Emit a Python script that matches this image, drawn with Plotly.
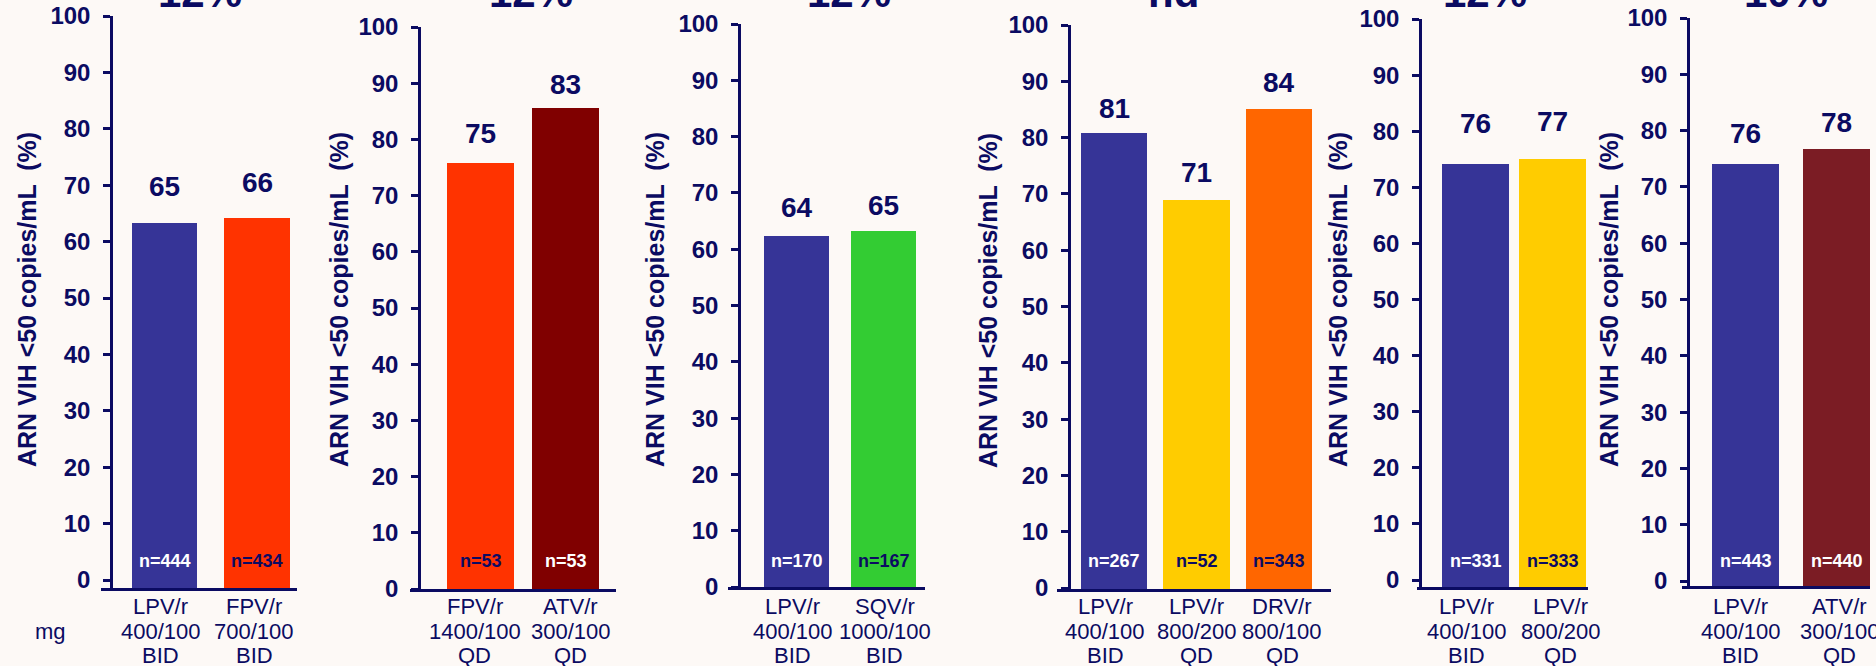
import plotly.graph_objects as go

# ---------------- data ----------------
titles = ["12%", "12%", "12%", "nd", "12%", "10%"]

cats_1 = ["LPV/r<br>400/100<br>BID", "FPV/r<br>700/100<br>BID"]
vals_1 = [63.3, 64.2]
labs_1 = ["65", "66"]
n_1 = ["n=444", "n=434"]

cats_2 = ["FPV/r<br>1400/100<br>QD", "ATV/r<br>300/100<br>QD"]
vals_2 = [75.8, 85.6]
labs_2 = ["75", "83"]
n_2 = ["n=53", "n=53"]

cats_3 = ["LPV/r<br>400/100<br>BID", "SQV/r<br>1000/100<br>BID"]
vals_3 = [62.3, 63.2]
labs_3 = ["64", "65"]
n_3 = ["n=170", "n=167"]

cats_4 = ["LPV/r<br>400/100<br>BID", "LPV/r<br>800/200<br>QD", "DRV/r<br>800/100<br>QD"]
vals_4 = [80.8, 68.9, 85.1]
labs_4 = ["81", "71", "84"]
n_4 = ["n=267", "n=52", "n=343"]

cats_5 = ["LPV/r<br>400/100<br>BID", "LPV/r<br>800/200<br>QD"]
vals_5 = [74.2, 75.0]
labs_5 = ["76", "77"]
n_5 = ["n=331", "n=333"]

cats_6 = ["LPV/r<br>400/100<br>BID", "ATV/r<br>300/100<br>QD"]
vals_6 = [74.1, 76.7]
labs_6 = ["76", "78"]
n_6 = ["n=443", "n=440"]

y_title = "ARN VIH <50 copies/mL  (%)"
unit_label = "mg"

# ---------------- styles ----------------
BLUE = "#363497"
RED = "#FF3300"
DKRED = "#800000"
GREEN = "#33CC33"
YELLOW = "#FFCC00"
ORANGE = "#FF6600"
MAROON = "#7B1C24"
NAVY = "#0b0b62"
WHITE = "#FFFFFF"

colors = [
    [BLUE, RED], [RED, DKRED], [BLUE, GREEN],
    [BLUE, YELLOW, ORANGE], [BLUE, YELLOW], [BLUE, MAROON],
]
ncolors = [
    [WHITE, NAVY], [NAVY, WHITE], [WHITE, NAVY],
    [WHITE, NAVY, NAVY], [WHITE, NAVY], [WHITE, WHITE],
]

# ---------------- geometry (pixels, layout only) ----------------
W, H = 1876, 666
FONT = "Liberation Sans, Arial, Helvetica, sans-serif"
CAT_LINES_Y = [606, 631, 655]
geom = [
    dict(y=(16, 580, 588), axis=111, dom=(101, 297), bars=[(132, 197), (224, 290)],
         yt=27, tt=200, lab_gap=[36, 35], cat_dx=[-4, -3]),
    dict(y=(27, 589, 589), axis=419, dom=(410, 616), bars=[(447, 514), (532, 599)],
         yt=339, tt=531, lab_gap=[30, 23], cat_dx=[-6, 5]),
    dict(y=(24, 587, 587), axis=739, dom=(728, 925), bars=[(764, 829), (851, 916)],
         yt=655, tt=849, lab_gap=[29, 26], cat_dx=[-4, 1]),
    dict(y=(25, 588, 589), axis=1069, dom=(1057, 1331), bars=[(1081, 1147), (1163, 1228), (1245, 1313)],
         yt=988, tt=1173, lab_gap=[25, 28, 26], cat_dx=[-9, 0, 3]),
    dict(y=(19, 580, 587), axis=1420, dom=(1417, 1588), bars=[(1442, 1509), (1519, 1586)],
         yt=1338, tt=1485, lab_gap=[40, 38], cat_dx=[-9, 8]),
    dict(y=(18, 581, 586), axis=1688, dom=(1682, 1870), bars=[(1712, 1779), (1803, 1870)],
         yt=1609, tt=1786, lab_gap=[30, 27], cat_dx=[-5, 3]),
]


def fx(p):
    return p / W


def fy(p):
    return 1 - p / H


cats_all = [cats_1, cats_2, cats_3, cats_4, cats_5, cats_6]
vals_all = [vals_1, vals_2, vals_3, vals_4, vals_5, vals_6]
labs_all = [labs_1, labs_2, labs_3, labs_4, labs_5, labs_6]
n_all = [n_1, n_2, n_3, n_4, n_5, n_6]

fig = go.Figure()
annotations = []
layout = {}

for i in range(6):
    k = i + 1
    xa = "x" if k == 1 else f"x{k}"
    ya = "y" if k == 1 else f"y{k}"
    g = geom[i]
    cats, vals, labs, ns = cats_all[i], vals_all[i], labs_all[i], n_all[i]
    top100, y0, base_px = g["y"]
    scale = (y0 - top100) / 100.0
    ymin = -(base_px - y0) / scale
    centers = [(l + r) / 2 for l, r in g["bars"]]
    n = len(centers)
    unit = (centers[-1] - centers[0]) / (n - 1)
    bw = sum(r - l for l, r in g["bars"]) / n / unit
    r0 = -(centers[0] - g["dom"][0]) / unit
    r1 = (n - 1) + (g["dom"][1] - centers[-1]) / unit

    fig.add_trace(go.Bar(
        x=cats, y=[v - ymin for v in vals], base=ymin,
        marker=dict(color=colors[i], line=dict(width=0)),
        width=bw, xaxis=xa, yaxis=ya, showlegend=False, hoverinfo="skip",
    ))

    layout[f"xaxis{'' if k == 1 else k}"] = dict(
        domain=[fx(g["dom"][0]), fx(g["dom"][1])], anchor=ya,
        type="category", range=[r0, r1], automargin=False,
        showline=True, linecolor=NAVY, linewidth=3,
        ticks="", showgrid=False, zeroline=False, fixedrange=True,
        showticklabels=False,
    )
    layout[f"yaxis{'' if k == 1 else k}"] = dict(
        domain=[fy(base_px), fy(top100)], anchor="free", position=fx(g["axis"]),
        range=[ymin, 100], tick0=0, dtick=10, automargin=False,
        showline=True, linecolor=NAVY, linewidth=2.5,
        ticks="outside", ticklen=7, tickwidth=2.5, tickcolor=NAVY,
        showgrid=False, zeroline=False, fixedrange=True,
        tickfont=dict(family=FONT, size=24, color=NAVY, weight="bold"),
        ticklabelstandoff=8,
    )

    for j, (c, v, lab, nn, nc) in enumerate(zip(cats, vals, labs, ns, ncolors[i])):
        # value label above the bar
        annotations.append(dict(
            x=c, y=v, xref=xa, yref=ya, text=lab, showarrow=False,
            yanchor="middle", yshift=g["lab_gap"][j],
            font=dict(family=FONT, size=28, color=NAVY, weight="bold"),
        ))
        # sample size inside the bar
        annotations.append(dict(
            x=c, y=fy(561), xref=xa, yref="paper", text=nn, showarrow=False,
            yanchor="middle",
            font=dict(family=FONT, size=18, color=nc, weight="bold"),
        ))
        # category label (three lines) under the axis
        for line, ly in zip(c.split("<br>"), CAT_LINES_Y):
            annotations.append(dict(
                x=c, y=fy(ly), xref=xa, yref="paper", text=line, showarrow=False,
                xanchor="center", yanchor="middle", xshift=g["cat_dx"][j],
                font=dict(family=FONT, size=22, color=NAVY),
            ))

    annotations.append(dict(
        x=fx(g["yt"]), y=fy(300), xref="paper", yref="paper", text=y_title,
        showarrow=False, textangle=-90, xanchor="center", yanchor="middle",
        font=dict(family=FONT, size=25, color=NAVY, weight="bold"),
    ))
    annotations.append(dict(
        x=fx(g["tt"]), y=fy(-7), xref="paper", yref="paper", text=titles[i],
        showarrow=False, xanchor="center", yanchor="middle",
        font=dict(family=FONT, size=42, color=NAVY, weight="bold"),
    ))

annotations.append(dict(
    x=fx(50), y=fy(631), xref="paper", yref="paper", text=unit_label,
    showarrow=False, xanchor="center", yanchor="middle",
    font=dict(family=FONT, size=22, color=NAVY),
))

fig.update_layout(
    width=W, height=H, margin=dict(l=0, r=0, t=0, b=0, autoexpand=False),
    paper_bgcolor="#FDF9F6", plot_bgcolor="rgba(0,0,0,0)",
    bargap=0, annotations=annotations, **layout,
)

fig.write_html("out.html", config=dict(displayModeBar=False))
